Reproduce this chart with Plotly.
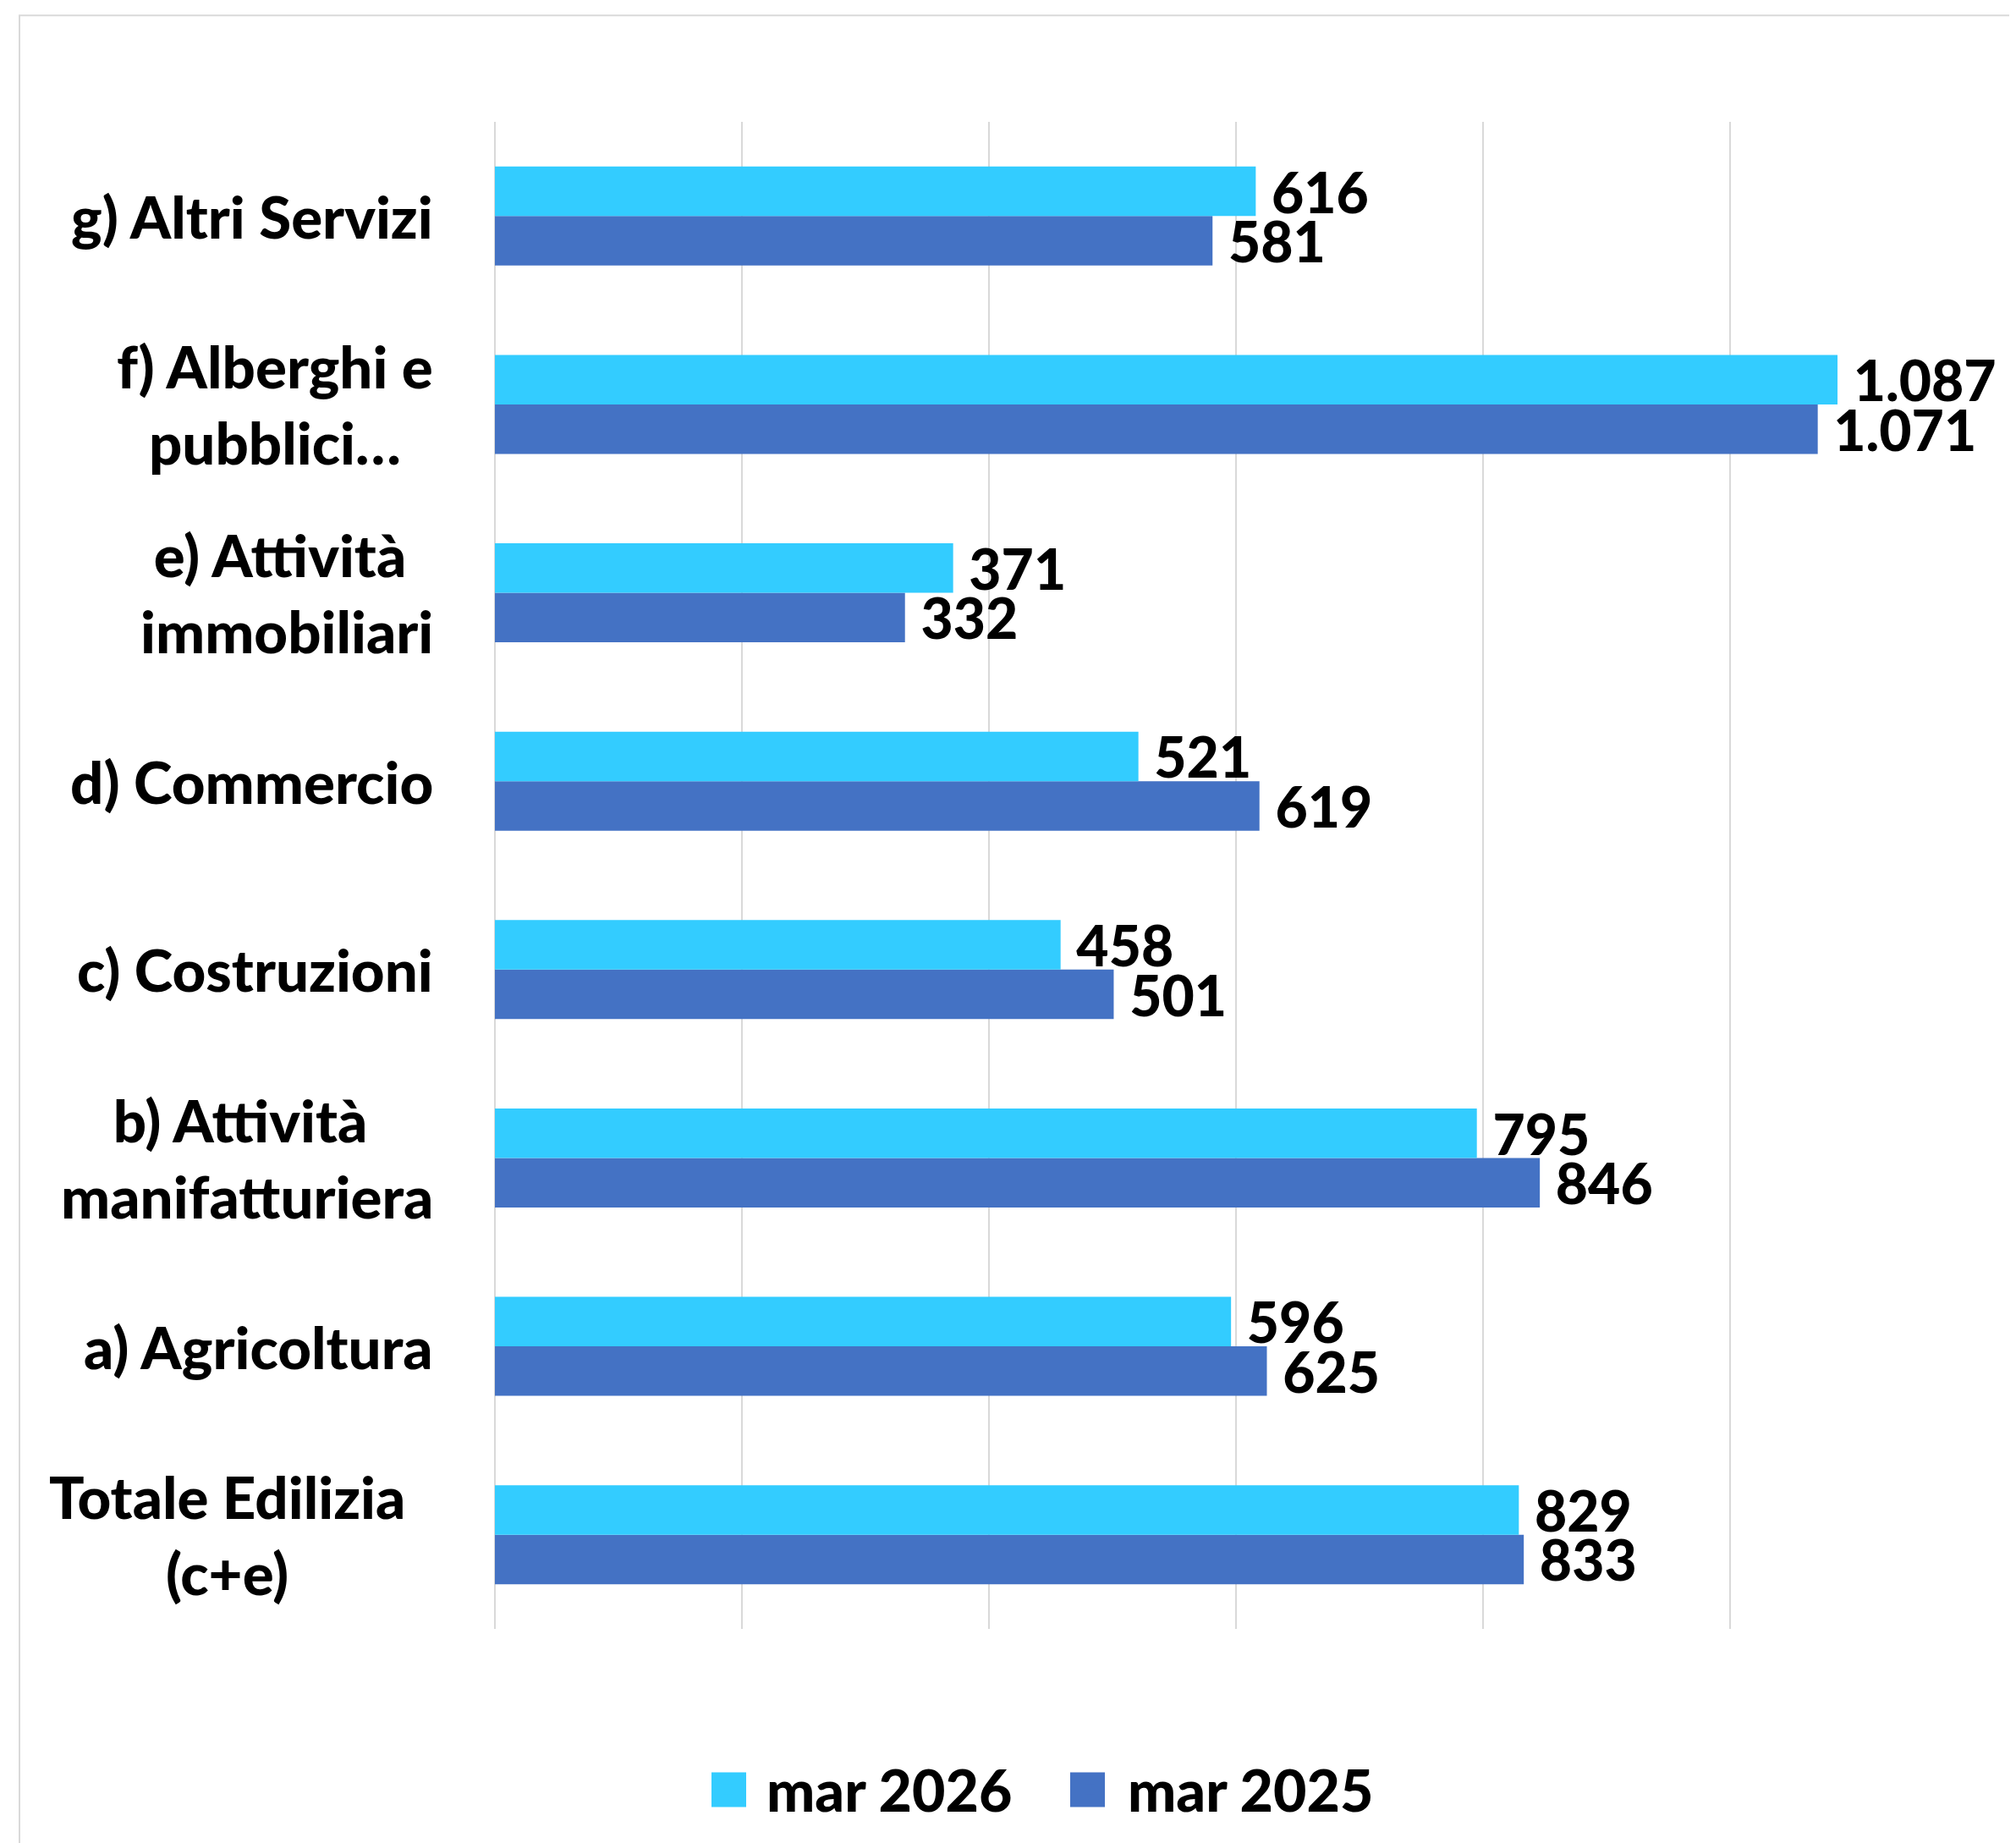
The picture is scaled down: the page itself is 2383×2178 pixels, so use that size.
import plotly.graph_objects as go

# ---- data ----
categories = [
    "Totale Edilizia<br>(c+e)",
    "a) Agricoltura",
    "b) Attività <br>manifatturiera",
    "c) Costruzioni",
    "d) Commercio",
    "e) Attività <br>immobiliari",
    "f) Alberghi e<br>pubblici…",
    "g) Altri Servizi",
]
series_names = ["mar 2026", "mar 2025"]
values_mar2026 = [829, 596, 795, 458, 521, 371, 1087, 616]
values_mar2025 = [833, 625, 846, 501, 619, 332, 1071, 581]

COL_2026 = "#33CCFF"
COL_2025 = "#4472C4"
GRID = "#D9D9D9"
FAM = "Lato, 'Open Sans', sans-serif"
FONT_NUM = dict(family=FAM, size=66, color="#000000", weight=900)
FONT_CAT = dict(family=FAM, size=69, color="#000000", weight=900)
FONT_LEG = dict(family=FAM, size=68, color="#000000", weight=900)


def fmt(v):
    return "\u00a0" + f"{v:,}".replace(",", ".")


fig = go.Figure()
# plotted first -> lower bar in each group
fig.add_trace(go.Bar(
    y=categories, x=values_mar2025, name=series_names[1], orientation="h",
    marker=dict(color=COL_2025, line=dict(width=0)),
    text=[fmt(v) for v in values_mar2025], textposition="outside",
    textfont=FONT_NUM, constraintext="none", cliponaxis=False,
    hoverinfo="skip",
))
fig.add_trace(go.Bar(
    y=categories, x=values_mar2026, name=series_names[0], orientation="h",
    marker=dict(color=COL_2026, line=dict(width=0)),
    text=[fmt(v) for v in values_mar2026], textposition="outside",
    textfont=FONT_NUM, constraintext="none", cliponaxis=False,
    hoverinfo="skip",
))

annotations = []
for c in categories:
    annotations.append(dict(
        x=0, xref="paper", y=c, yref="y", text=c, showarrow=False,
        xanchor="right", yanchor="middle", align="center",
        xshift=-71 - (33 if c.startswith("Totale") else 0),
        font=FONT_CAT,
    ))

# plot area spans page x 585..2337, y 144..1930 (page has an 8px body margin)
PX0, PW, PY0, PH = 585.0, 1752.0, 1930.0, 1786.0


def px(x):
    return (x - PX0) / PW


def py(y):
    return (PY0 - y) / PH


# enlarged legend keys drawn over plotly's own (small) legend symbols
key_shapes = [
    dict(type="rect", xref="paper", yref="paper", x0=px(841), x1=px(882), y0=py(2141), y1=py(2100),
         fillcolor=COL_2026, line=dict(width=0), layer="above"),
    dict(type="rect", xref="paper", yref="paper", x0=px(1265), x1=px(1306), y0=py(2141), y1=py(2100),
         fillcolor=COL_2025, line=dict(width=0), layer="above"),
]

fig.update_layout(
    width=2375, height=2170, autosize=False,
    margin=dict(l=577, r=46, t=136, b=248, pad=0),
    paper_bgcolor="white", plot_bgcolor="white",
    barmode="group", bargap=0.475, bargroupgap=0,
    font=FONT_CAT,
    separators=",.",
    xaxis=dict(range=[0, 1200], dtick=200, showgrid=True, gridcolor=GRID, gridwidth=2,
               zeroline=True, zerolinecolor=GRID, zerolinewidth=2,
               showticklabels=False, showline=False, ticks="", fixedrange=True),
    yaxis=dict(type="category", categoryorder="array", categoryarray=categories,
               showticklabels=False, showgrid=False, zeroline=False, showline=False,
               ticks="", fixedrange=True),
    legend=dict(orientation="h", traceorder="reversed", x=px(816), xanchor="left",
                y=py(2120), yanchor="middle", font=FONT_LEG, bgcolor="rgba(0,0,0,0)",
                itemwidth=80, entrywidth=332, entrywidthmode="pixels"),
    annotations=annotations,
    shapes=[dict(type="rect", xref="paper", yref="paper",
                 x0=px(23), x1=1.5, y0=-0.6, y1=py(18),
                 line=dict(color=GRID, width=2), fillcolor="rgba(0,0,0,0)", layer="below")]
           + key_shapes,
)

fig.write_html("out.html", config={"displayModeBar": False})
